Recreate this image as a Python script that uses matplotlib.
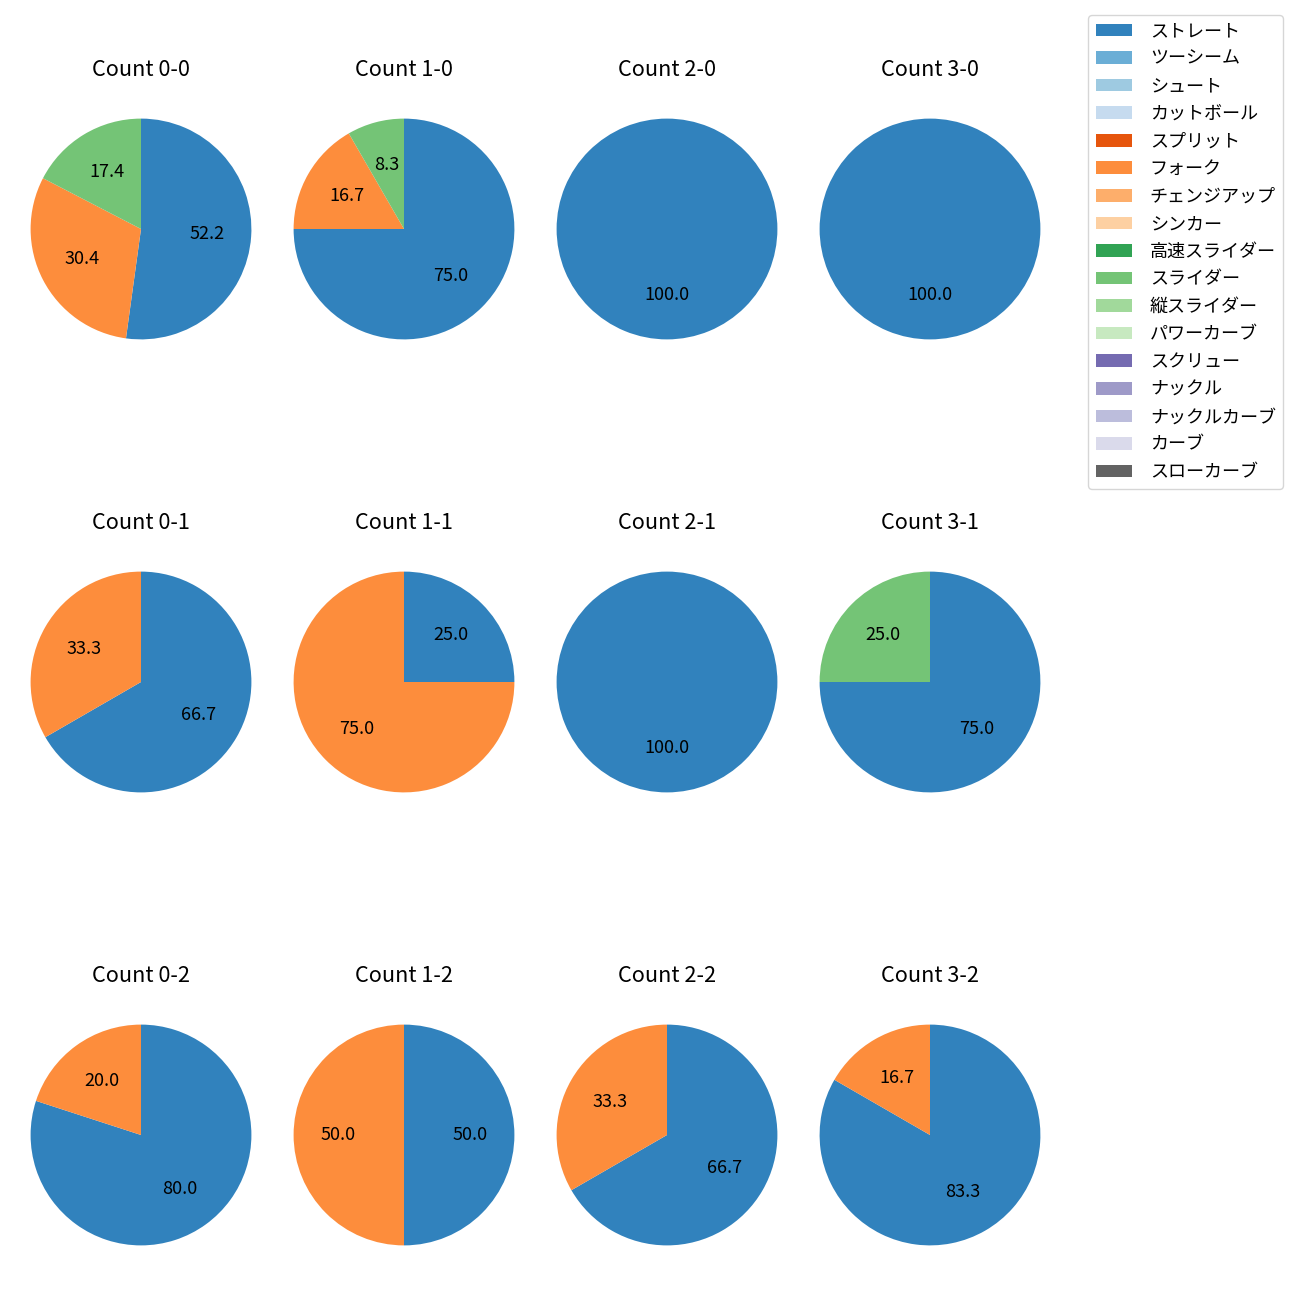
import matplotlib
matplotlib.use('Agg')
import matplotlib.pyplot as plt
from matplotlib.patches import Patch

plt.rcParams['font.family'] = ['Noto Sans CJK JP', 'DejaVu Sans']

pitch_names = ['ストレート', 'ツーシーム', 'シュート', 'カットボール', 'スプリット', 'フォーク',
               'チェンジアップ', 'シンカー', '高速スライダー', 'スライダー', '縦スライダー',
               'パワーカーブ', 'スクリュー', 'ナックル', 'ナックルカーブ', 'カーブ', 'スローカーブ']

count_labels = ['0-0', '1-0', '2-0', '3-0',
                '0-1', '1-1', '2-1', '3-1',
                '0-2', '1-2', '2-2', '3-2']

# pitches thrown per count (only three types appear)
straight = [12, 9, 1, 1, 2, 1, 1, 3, 4, 1, 2, 5]
fork = [7, 2, 0, 0, 1, 3, 0, 0, 1, 1, 1, 1]
slider = [4, 1, 0, 0, 0, 0, 0, 1, 0, 0, 0, 0]

cmap = plt.get_cmap('tab20c')
colors = [cmap(i) for i in range(17)]
col_of = dict(zip(pitch_names, colors))

fig = plt.figure(figsize=(13, 13), dpi=100)

col_x = [141, 404, 667, 930]
row_y = [229, 682, 1135]
side = 276

for i, lab in enumerate(count_labels):
    r, c = divmod(i, 4)
    cx = col_x[c] / 1300
    cy = 1 - row_y[r] / 1300
    s = side / 1300
    ax = fig.add_axes([cx - s / 2, cy - s / 2, s, s])
    vals, cols = [], []
    for name, series in [('ストレート', straight), ('フォーク', fork), ('スライダー', slider)]:
        if series[i] > 0:
            vals.append(series[i])
            cols.append(col_of[name])
    ax.pie(vals, colors=cols, autopct='%.1f', startangle=90, counterclock=False,
           textprops={'fontsize': 13})
    ax.set_title('Count ' + lab, fontsize=15.6, pad=11)

handles = [Patch(facecolor=col_of[n], label=n) for n in pitch_names]
fig.legend(handles=handles, loc='upper right', bbox_to_anchor=(1283 / 1300, 1 - 15 / 1300),
           borderaxespad=0, fontsize=13, labelspacing=0.53, handletextpad=1.0)

plt.savefig('out.png')
